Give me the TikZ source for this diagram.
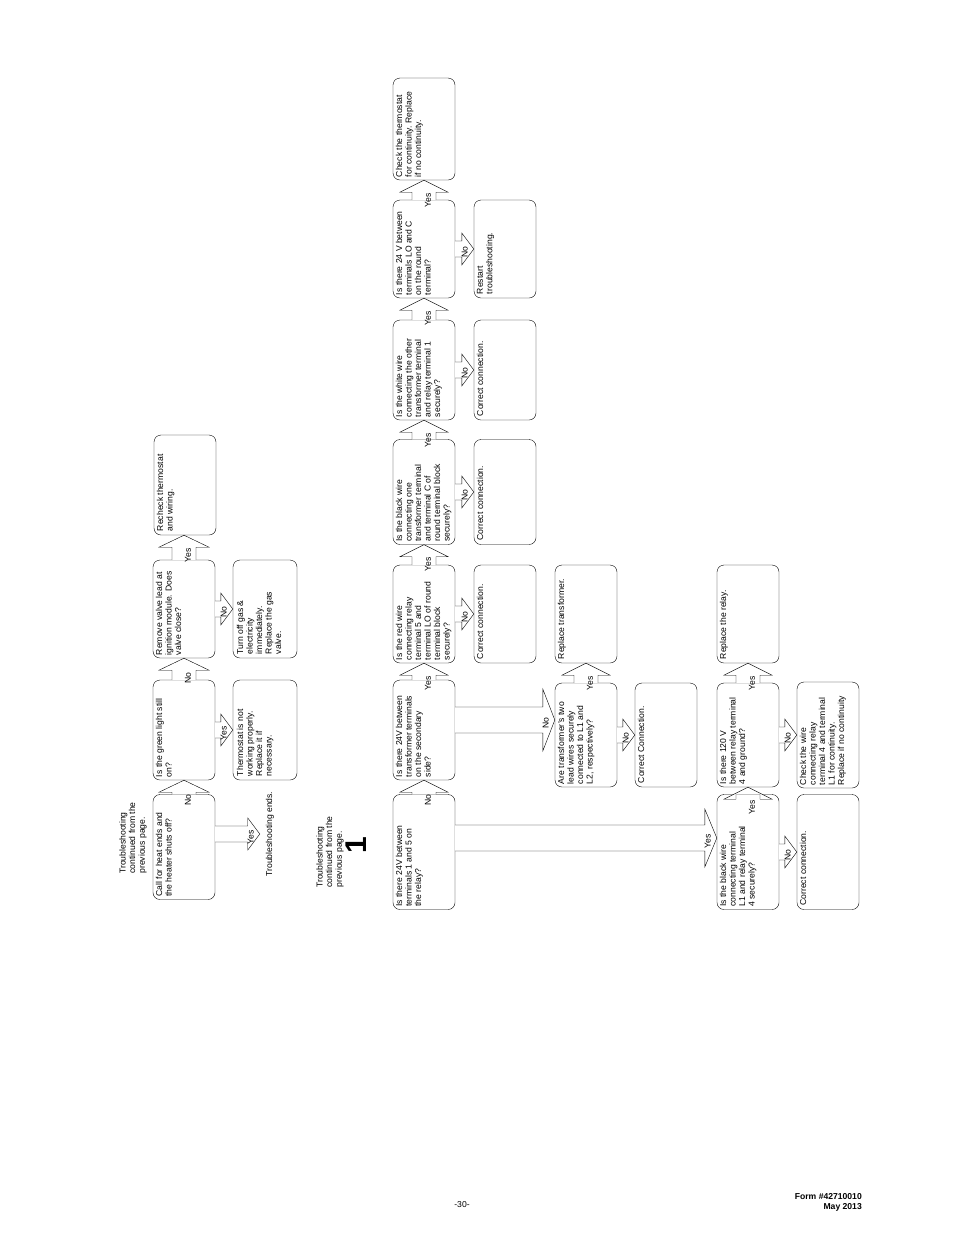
\documentclass[tikz,border=0pt]{standalone}
\usepackage{fontspec}
\setmainfont{Liberation Sans}
\usetikzlibrary{calc}

\tikzset{
  box/.style={draw, rounded corners=7pt, rotate=90, inner sep=3pt, minimum height=#1, minimum width=100pt, fill=white},
  box/.default=62pt,
  lbl/.style={rotate=90, inner sep=0pt, font=\fontsize{8.6}{9}\selectfont},
  plain/.style={rotate=90, inner sep=0pt, align=left, font=\fontsize{8.6}{9.6}\selectfont},
}
% text of a box, top aligned (left on the page)
\newcommand\tx[2][92pt]{\parbox[t][56pt][t]{#1}{\raggedright\fontsize{8.6}{9.5}\selectfont #2}}
% hollow arrow pointing up the page: from, to, label, half shaft, half head
\newcommand\uparr[5]{\draw[fill=white] let \p1=(#1), \p2=(#2) in
  (\x1-#4,\y1) -- (\x1-#4,\y2-12pt) -- (\x1-#5,\y2-12pt) -- (\x1,\y2) -- (\x1+#5,\y2-12pt)
  -- (\x1+#4,\y2-12pt) -- (\x1+#4,\y1)
  (\x1+4pt,\y2-20pt) node[lbl] {#3};}
% hollow arrow pointing right
\newcommand\rtarr[5]{\draw[fill=white] let \p1=(#1), \p2=(#2) in
  (\x1,\y2+#4) -- (\x2-12pt,\y2+#4) -- (\x2-12pt,\y2+#5) -- (\x2,\y2) -- (\x2-12pt,\y2-#5)
  -- (\x2-12pt,\y2-#4) -- (\x1,\y2-#4)
  (\x2-9pt,\y2-3pt) node[lbl] {#3};}

\begin{document}
\begin{tikzpicture}[x=1pt,y=-1pt]
	\useasboundingbox (0,0) rectangle (954,1235);

	% first chart
	\node[plain] (cont1) at (133,838) {Troubleshooting\\continued from the\\previous page.};
	\node[box=58pt, minimum width=105pt] (heat) at (184,847) {\tx[99pt]{Call for heat ends and\\the heater shuts off?}};
	\node[box=58pt] (green) at (184,730) {\tx[94pt]{Is the green light still\\on?}};
	\node[box=58pt, minimum width=98pt] (valve) at (184,609) {\tx[92pt]{Remove valve lead at\\ignition module. Does\\valve close?}};
	\node[box=60pt] (recheck) at (185,485) {\tx{Recheck thermostat\\and wiring.}};
	\node[box=64pt] (thermo) at (265,730) {\tx{Thermostat is not\\working properly.\\Replace it if\\necessary.}};
	\node[box=64pt, minimum width=98pt] (gasoff) at (265,609) {\tx[90pt]{Turn off gas \&\\electricity\\immediately.\\Replace the gas\\valve.}};
	\node[plain] (ends) at (270,834) {Troubleshooting ends.};

	\uparr{heat.east}{green.west}{No}{12pt}{25pt}
	\uparr{green.east}{valve.west}{No}{12pt}{25pt}
	\uparr{valve.east}{recheck.west}{Yes}{12pt}{25pt}
	\rtarr{heat.south}{$(ends.north)+(-6,0)$}{Yes}{8pt}{16pt}
	\rtarr{green.south}{thermo.north}{Yes}{8pt}{16pt}
	\rtarr{valve.south}{gasoff.north}{No}{8pt}{16pt}

	% second chart
	\node[plain] (cont2) at (330,852) {Troubleshooting\\continued from the\\previous page.};
	\node[rotate=90, font=\fontsize{30}{30}\selectfont\bfseries] (one) at (356,845) {1};

	\node[box, minimum width=115pt] (relay) at (424,852) {\tx[109pt]{Is there 24V between\\terminals 1 and 5 on\\the relay?}};
	\node[box] (sec) at (424,730) {\tx[94pt]{Is there 24V between\\transformer terminals\\on the secondary\\side?}};
	\node[box, minimum width=98pt] (red) at (424,614) {\tx[92pt]{Is the red wire\\connecting relay\\terminal 5 and\\terminal LO of round\\terminal block\\securely?}};
	\node[box, minimum width=105pt] (black) at (424,492) {\tx[99pt]{Is the black wire\\connecting one\\transformer terminal\\and terminal C of\\round terminal block\\securely?}};
	\node[box] (white) at (424,370) {\tx[94pt]{Is the white wire\\connecting the other\\transformer terminal\\and relay terminal 1\\securely?}};
	\node[box, minimum width=98pt] (loc) at (424,249) {\tx[92pt]{Is there 24 V between\\terminals LO and C\\on the round\\terminal?}};
	\node[box, minimum width=102pt] (check) at (424,129) {\tx[96pt]{Check the thermostat\\for continuity. Replace\\if no continuity.}};

	\node[box, minimum width=98pt] (fixred) at (505,614) {\tx[90pt]{Correct connection.}};
	\node[box, minimum width=105pt] (fixblack) at (505,492) {\tx[97pt]{Correct connection.}};
	\node[box] (fixwhite) at (505,370) {\tx{Correct connection.}};
	\node[box, minimum width=98pt] (restart) at (505,249) {\tx[90pt]{Restart\\troubleshooting.}};

	\node[box, minimum width=104pt] (lead) at (586,735) {\tx[98pt]{Are transformer's two\\lead wires securely\\connected to L1 and\\L2, respectively?}};
	\node[box, minimum width=98pt] (trans) at (586,614) {\tx[90pt]{Replace transformer.}};
	\node[box, minimum width=104pt] (fixlead) at (666,735) {\tx[96pt]{Correct Connection.}};

	\node[box, minimum width=115pt] (wire) at (748,852) {\tx[109pt]{Is the black wire\\connecting terminal\\L1 and relay terminal\\4 securely?}};
	\node[box, minimum width=104pt] (volt) at (748,735) {\tx[98pt]{Is there 120 V\\between relay terminal\\4 and ground?}};
	\node[box, minimum width=98pt] (rep) at (748,614) {\tx[90pt]{Replace the relay.}};
	\node[box, minimum width=115pt] (fixwire) at (828,852) {\tx[107pt]{Correct connection.}};
	\node[box, minimum width=104pt] (cont) at (828,735) {\tx[100pt]{Check the wire\\connecting relay\\terminal 4 and terminal\\L1 for continuity.\\Replace if no continuity}};

	\uparr{relay.east}{sec.west}{No}{12pt}{24pt}
	\uparr{sec.east}{red.west}{Yes}{12pt}{24pt}
	\uparr{red.east}{black.west}{Yes}{12pt}{24pt}
	\uparr{black.east}{white.west}{Yes}{12pt}{24pt}
	\uparr{white.east}{loc.west}{Yes}{12pt}{24pt}
	\uparr{loc.east}{check.west}{Yes}{12pt}{24pt}
	\uparr{lead.east}{trans.west}{Yes}{12pt}{24pt}
	\uparr{wire.east}{volt.west}{Yes}{12pt}{24pt}
	\uparr{volt.east}{rep.west}{Yes}{12pt}{24pt}

	\rtarr{red.south}{fixred.north}{No}{8pt}{16pt}
	\rtarr{black.south}{fixblack.north}{No}{8pt}{16pt}
	\rtarr{white.south}{fixwhite.north}{No}{8pt}{16pt}
	\rtarr{loc.south}{restart.north}{No}{8pt}{16pt}
	\rtarr{lead.south}{fixlead.north}{No}{8pt}{16pt}
	\rtarr{wire.south}{fixwire.north}{No}{8pt}{16pt}
	\rtarr{volt.south}{cont.north}{No}{8pt}{16pt}
	\rtarr{relay.south}{$(wire.north)+(0,-14)$}{Yes}{13pt}{29pt}
	\rtarr{sec.south}{$(lead.north)+(0,-15)$}{No}{13pt}{31pt}

	% footer
	\node[font=\fontsize{8.6}{9}\selectfont] (page) at (462,1205) {-30-};
	\node[anchor=north east, align=right, inner sep=0pt, font=\fontsize{8.6}{10}\selectfont\bfseries] (form) at (862,1193) {Form \#42710010\\May 2013};
\end{tikzpicture}
\end{document}
